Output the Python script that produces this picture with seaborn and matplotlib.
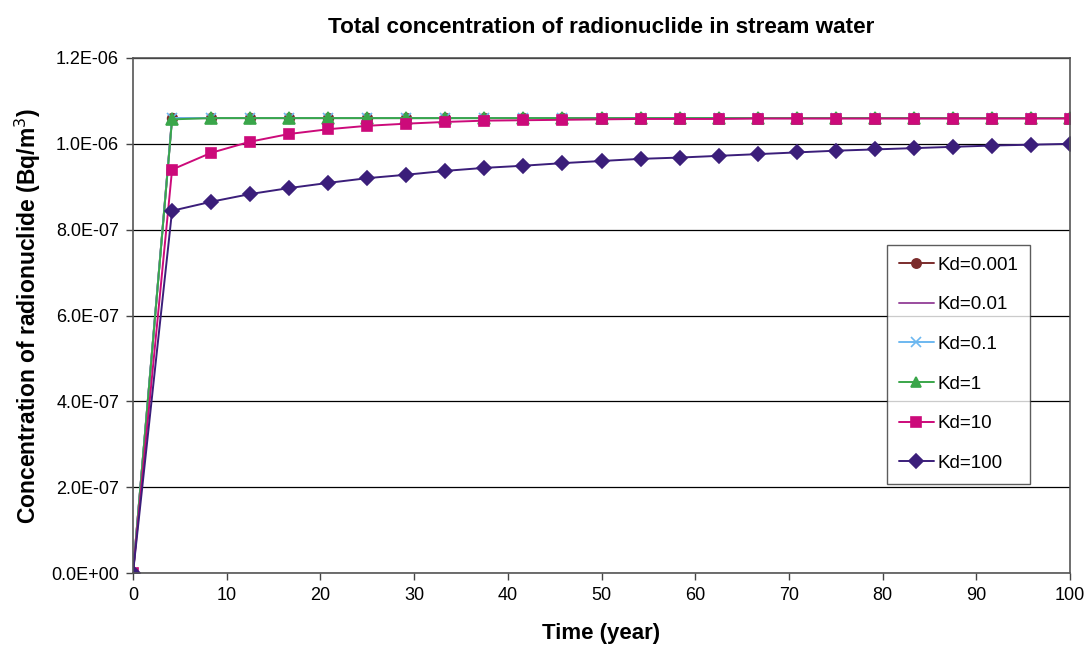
import matplotlib
matplotlib.use("Agg")
import matplotlib.pyplot as plt
import matplotlib.ticker as mticker
import seaborn as sns
import pandas as pd

# Time points (year)
time = [0, 4.17, 8.33, 12.5, 16.67, 20.83, 25, 29.17, 33.33, 37.5, 41.67, 45.83,
        50, 54.17, 58.33, 62.5, 66.67, 70.83, 75, 79.17, 83.33, 87.5, 91.67, 95.83, 100]

# Total concentration (Bq/m3) per distribution coefficient Kd
kd_0001 = [0] + [1.06e-6] * 24
kd_001 = [0] + [1.06e-6] * 24
kd_01 = [0] + [1.06e-6] * 24
kd_1 = [0, 1.057e-6] + [1.06e-6] * 23
kd_10 = [0, 9.40e-7, 9.79e-7, 1.005e-6, 1.023e-6, 1.034e-6, 1.042e-6, 1.047e-6,
         1.051e-6, 1.054e-6, 1.055e-6, 1.056e-6, 1.057e-6, 1.058e-6, 1.058e-6,
         1.058e-6, 1.059e-6, 1.059e-6, 1.059e-6, 1.059e-6, 1.059e-6, 1.059e-6,
         1.059e-6, 1.059e-6, 1.059e-6]
kd_100 = [0, 8.44e-7, 8.65e-7, 8.83e-7, 8.97e-7, 9.09e-7, 9.20e-7, 9.28e-7,
          9.37e-7, 9.44e-7, 9.49e-7, 9.55e-7, 9.60e-7, 9.65e-7, 9.68e-7,
          9.72e-7, 9.76e-7, 9.80e-7, 9.84e-7, 9.87e-7, 9.90e-7, 9.93e-7,
          9.96e-7, 9.98e-7, 1.00e-6]

labels = ["Kd=0.001", "Kd=0.01", "Kd=0.1", "Kd=1", "Kd=10", "Kd=100"]
series = [kd_0001, kd_001, kd_01, kd_1, kd_10, kd_100]
colors = ["#7B2C2C", "#9A4C9E", "#6DB8F0", "#3AA64A", "#CC0A7A", "#3B1E7A"]
markers = ["o", None, "x", "^", "s", "D"]
msizes = [7, 0, 7, 8, 7.5, 7.5]

sns.set_theme(style="white")
plt.rcParams["font.family"] = ["Liberation Sans", "DejaVu Sans"]
plt.rcParams["text.color"] = "black"
plt.rcParams["axes.labelcolor"] = "black"

fig = plt.figure(figsize=(10.89, 6.46), dpi=100)
ax = fig.add_axes([133 / 1089, 1 - 573 / 646, (1070 - 133) / 1089, (573 - 58) / 646])

for lab, vals, col, mk, ms in zip(labels, series, colors, markers, msizes):
    df = pd.DataFrame({"time": time, "conc": vals})
    kw = dict(marker=mk, markersize=ms, markeredgecolor=col, markerfacecolor=col,
              markeredgewidth=1.2) if mk else {}
    sns.lineplot(data=df, x="time", y="conc", ax=ax, color=col, linewidth=1.4,
                 label=lab, **kw)

ax.set_xlim(0, 100)
ax.set_ylim(0, 1.2e-6)
ax.xaxis.set_major_locator(mticker.MultipleLocator(10))
ax.yaxis.set_major_locator(mticker.MultipleLocator(2e-7))
ax.yaxis.set_major_formatter(mticker.FuncFormatter(lambda v, p: f"{v:.1E}"))
ax.grid(axis="y", color="black", linewidth=0.9)
ax.grid(axis="x", visible=False)
for s in ax.spines.values():
    s.set_color("#555555")
    s.set_linewidth(1.2)
ax.tick_params(axis="both", direction="out", length=5, width=1, color="#444444",
               labelsize=13, labelcolor="black", pad=5, left=True, bottom=True)

ax.set_title("Total concentration of radionuclide in stream water",
             fontsize=16.2, fontweight="bold", pad=18, color="black")
ax.set_xlabel("Time (year)", fontsize=16, fontweight="bold", labelpad=14)
ax.set_ylabel("Concentration of radionuclide (Bq/m$^3$)", fontsize=16.5,
              fontweight="bold", labelpad=6)

leg = ax.legend(loc="upper left", bbox_to_anchor=((887 - 133) / 937, (573 - 245) / 515),
                frameon=True, fancybox=False, edgecolor="#333333", fontsize=13.5,
                handlelength=1.9, handletextpad=0.15, labelspacing=1.2,
                borderpad=0.62, borderaxespad=0, markerscale=0.95)
leg.get_frame().set_linewidth(1.0)
for t in leg.get_texts():
    t.set_color("black")

fig.savefig("out.png", dpi=100)
